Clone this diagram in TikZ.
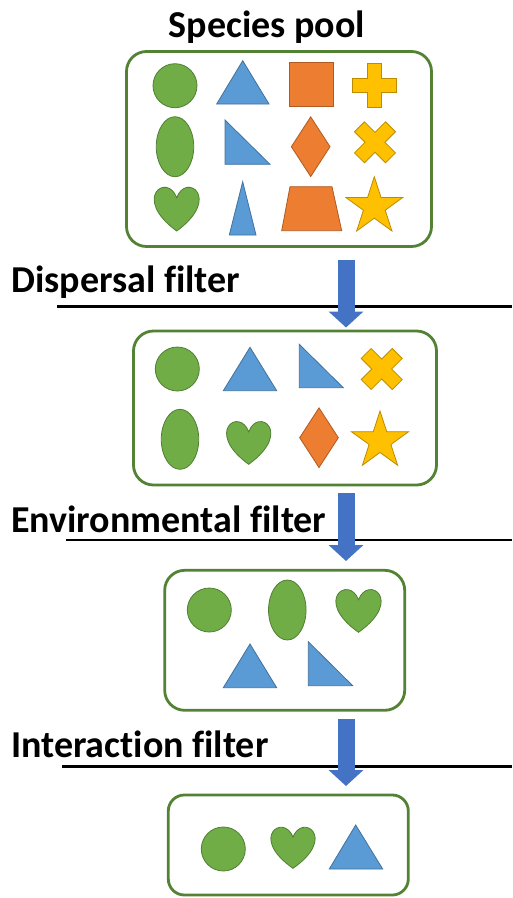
\documentclass[tikz,border=0pt]{standalone}
\usepackage{fontspec}
\setmainfont{Carlito}[Ligatures=NoCommon]
\usetikzlibrary{positioning,arrows.meta,shapes.geometric}
\definecolor{sgreen}{RGB}{112,173,71}
\definecolor{sgreenline}{RGB}{80,126,50}
\definecolor{sblue}{RGB}{91,155,213}
\definecolor{sblueline}{RGB}{65,113,156}
\definecolor{sorange}{RGB}{237,125,49}
\definecolor{sorangeline}{RGB}{174,90,33}
\definecolor{syellow}{RGB}{255,192,0}
\definecolor{syellowline}{RGB}{188,140,0}
\definecolor{boxgreen}{RGB}{84,130,53}
\definecolor{arrowblue}{RGB}{68,114,196}

\begin{document}
\begin{tikzpicture}[
  x=1pt,y=-1pt,
  poolbox/.style={draw=boxgreen,line width=2.8pt,rounded corners=20pt,inner sep=0},
  sepline/.style={draw=black,line width=2.5pt},
  filterarr/.style={draw=arrowblue,line width=17pt,-{Triangle[length=16pt,width=34pt]}},
  filterlabel/.style={font=\fontsize{38}{42}\selectfont\bfseries,anchor=base west,inner sep=0},
  gshape/.style={fill=sgreen,draw=sgreenline,line width=0.8pt},
  bshape/.style={fill=sblue,draw=sblueline,line width=0.8pt},
  oshape/.style={fill=sorange,draw=sorangeline,line width=0.8pt},
  yshape/.style={fill=syellow,draw=syellowline,line width=0.8pt},
  gcirc/.style={gshape,circle,inner sep=0,minimum size=44pt},
  goval/.style={gshape,ellipse,inner sep=0,minimum width=37.5pt,minimum height=60pt},
  odiam/.style={oshape,diamond,inner sep=0,minimum width=39pt,minimum height=60pt},
  ystar/.style={yshape,star,star points=5,star point ratio=2.618,inner sep=0,minimum size=60pt},
]

% Helper macros for the species shapes
\def\heart#1#2#3#4{%
  % #1=centre x, #2=top y, #3=width, #4=height
  \begin{scope}[shift={(#1,#2)},xscale=#3,yscale=#4]
    \filldraw[gshape] (0,0.25) .. controls (0.2083,-0.3333) and (1.0208,0.25) .. (0,1)
      .. controls (-1.0208,0.25) and (-0.2083,-0.3333) .. (0,0.25) -- cycle;
  \end{scope}
}
\def\tri#1#2#3#4#5{%
  % #1=apex x, #2=apex y, #3=base left, #4=base right, #5=base y
  \filldraw[bshape] (#1,#2) -- (#3,#5) -- (#4,#5) -- cycle;
}
\def\rtri#1#2#3#4{%
  % #1=left, #2=top, #3=right, #4=bottom
  \filldraw[bshape] (#1,#2) -- (#1,#4) -- (#3,#4) -- cycle;
}
\def\cross#1#2#3{%
  % #1=centre x, #2=centre y, #3=rotation
  \begin{scope}[shift={(#1,#2)},rotate=#3]
    \filldraw[yshape] (-7,-22) -- (7,-22) -- (7,-7) -- (22,-7) -- (22,7) -- (7,7)
      -- (7,22) -- (-7,22) -- (-7,7) -- (-22,7) -- (-22,-7) -- (-7,-7) -- cycle;
  \end{scope}
}

\useasboundingbox (0,0) rectangle (512,898);

% --- SPECIES POOL ---
\node[font=\fontsize{38}{42}\selectfont\bfseries,anchor=base,inner sep=0] (pooltitle) at (267,37.3) {Species pool};
\node[poolbox,minimum width=305pt,minimum height=195pt] (pool) at (279,149) {};
\node[gcirc] (poolcirc) at (175,85.7) {};
\tri{242.7}{60.7}{216.7}{269}{104}
\filldraw[oshape] (289,62.7) rectangle (333.3,106.7);
\cross{374.5}{85}{0}
\node[goval] (pooloval) at (175,146.7) {};
\rtri{225}{120}{270}{164.3}
\node[odiam] (pooldiam) at (310.7,146.7) {};
\cross{375}{142.3}{45}
\heart{176.7}{186.7}{44.7}{44.3}
\tri{242.7}{181.7}{229.3}{256}{235}
\filldraw[oshape] (290,186.7) -- (281.7,230.7) -- (341.7,230.7) -- (332,186.7) -- cycle;
\node[ystar] (poolstar) at (374.3,206.7) {};

% --- DISPERSAL FILTER ---
\node[filterlabel] (displabel) at (11,292.3) {Dispersal filter};
\draw[sepline] (57,306.5) -- (512,306.5);
\coordinate (disptop) at (346,260);
\coordinate (disptip) at (346,327.5);
\draw[filterarr] (disptop) -- (disptip);

\node[poolbox,minimum width=303pt,minimum height=154pt] (disp) at (285,408) {};
\node[gcirc] (dispcirc) at (177.3,369) {};
\tri{250}{347.3}{223.3}{276.7}{390.7}
\rtri{299.3}{344.3}{343.3}{387.7}
\cross{381.7}{369}{45}
\node[goval] (dispoval) at (180,439.3) {};
\heart{248.7}{421}{44}{43.3}
\node[odiam] (dispdiam) at (319,437.7) {};
\node[ystar] (dispstar) at (380,441) {};

% --- ENVIRONMENTAL FILTER ---
\node[filterlabel] (envlabel) at (11,532.3) {Environmental filter};
\draw[sepline] (65.7,540) -- (512,540);
\coordinate (envtop) at (346,493.3);
\coordinate (envtip) at (346,561);
\draw[filterarr] (envtop) -- (envtip);

\node[poolbox,minimum width=240pt,minimum height=140pt] (env) at (284.7,640.3) {};
\node[gcirc] (envcirc) at (209.3,610) {};
\node[goval] (envoval) at (287.3,610) {};
\heart{358.5}{589}{45}{43.3}
\tri{250}{644}{223.3}{276.7}{687.7}
\rtri{308.3}{641.7}{352.7}{685.7}

% --- INTERACTION FILTER ---
\node[filterlabel] (interlabel) at (11,757.3) {Interaction filter};
\draw[sepline] (62,766.5) -- (512,766.5);
\coordinate (intertop) at (346,719.3);
\coordinate (intertip) at (346,786);
\draw[filterarr] (intertop) -- (intertip);

\node[poolbox,minimum width=240pt,minimum height=100pt,rounded corners=16pt] (inter) at (288.3,845) {};
\node[gcirc] (intercirc) at (223.3,849) {};
\heart{293}{826.7}{44}{41.6}
\tri{355.7}{825}{329.3}{382.7}{869}

\end{tikzpicture}
\end{document}
